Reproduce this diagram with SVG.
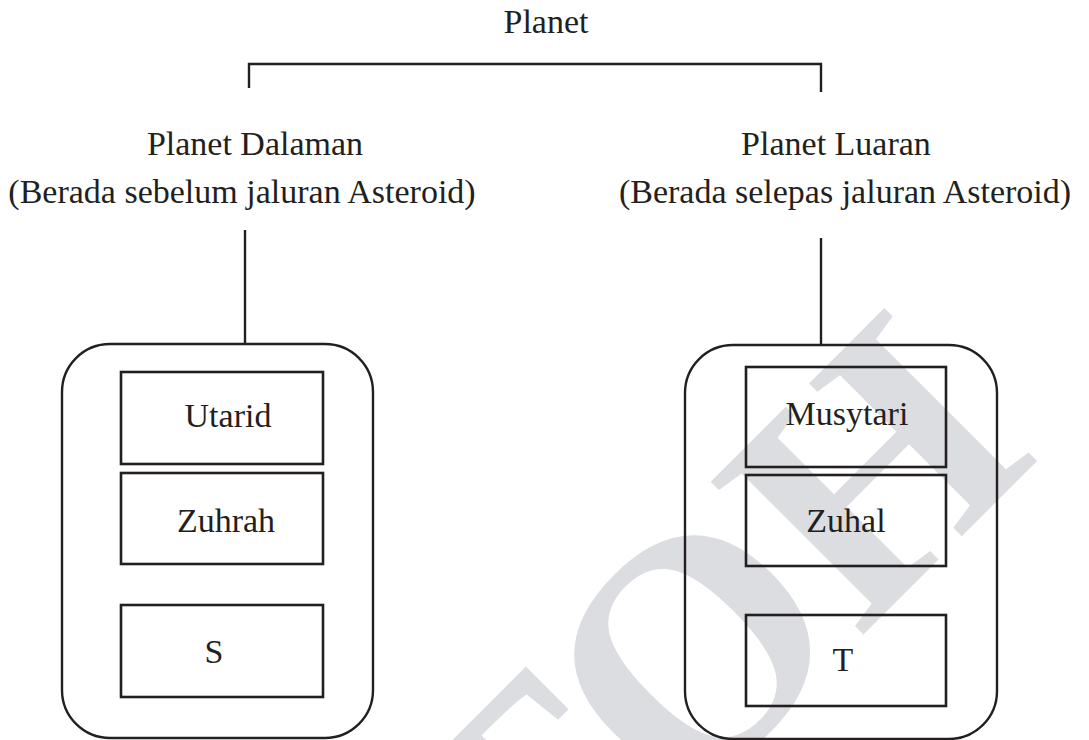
<svg xmlns="http://www.w3.org/2000/svg" width="1089" height="740" viewBox="0 0 1089 740">
<style>
.t{font-family:"Liberation Serif","Times New Roman",serif;font-size:34px;fill:#231f20;text-anchor:middle}
.box{fill:none;stroke:#231f20;stroke-width:2.6}
.group{fill:none;stroke:#231f20;stroke-width:2.4}
.ln{fill:none;stroke:#231f20;stroke-width:2.4}
.wm{font-family:"Liberation Serif","Times New Roman",serif;font-size:330px;font-weight:bold;fill:#dcdde0}
</style>
<rect width="1089" height="740" fill="#ffffff"/>
<text class="wm" transform="translate(8,1490) rotate(-45)">CONTOH</text>
<g id="root"><text class="t" x="546" y="33">Planet</text></g>
<g id="connectors">
<path class="ln" d="M249,88 V64 H821 V92"/>
<path class="ln" d="M245,230 V344"/>
<path class="ln" d="M821,238 V345"/>
</g>
<g id="inner-label">
<text class="t" x="255" y="155">Planet Dalaman</text>
<text class="t" x="242" y="203">(Berada sebelum jaluran Asteroid)</text>
</g>
<g id="outer-label">
<text class="t" x="836" y="155">Planet Luaran</text>
<text class="t" x="845" y="203">(Berada selepas jaluran Asteroid)</text>
</g>
<g id="inner-group"><rect class="group" x="62" y="344" width="311" height="394" rx="48" ry="48"/></g>
<g id="outer-group"><rect class="group" x="685" y="345" width="312" height="394" rx="48" ry="48"/></g>
<g id="utarid"><rect class="box" x="121" y="372" width="202" height="92"/><text class="t" x="228" y="427">Utarid</text></g>
<g id="zuhrah"><rect class="box" x="121" y="473" width="202" height="91"/><text class="t" x="226" y="532">Zuhrah</text></g>
<g id="s"><rect class="box" x="121" y="605" width="202" height="92"/><text class="t" x="214" y="663">S</text></g>
<g id="musytari"><rect class="box" x="746" y="367" width="200" height="100"/><text class="t" x="847" y="425">Musytari</text></g>
<g id="zuhal"><rect class="box" x="746" y="475" width="200" height="91"/><text class="t" x="846" y="532">Zuhal</text></g>
<g id="t"><rect class="box" x="746" y="615" width="200" height="91"/><text class="t" x="843" y="671">T</text></g>
</svg>
